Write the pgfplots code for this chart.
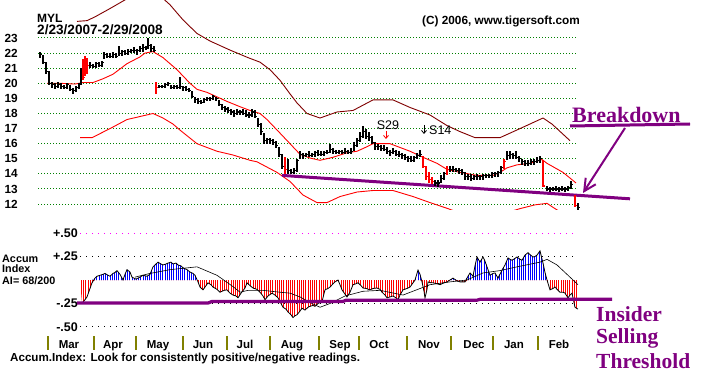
\documentclass[border=0pt]{standalone}
\usepackage{pgfplots}
\pgfplotsset{compat=1.18}
\usepackage{pgfplotstable}
\usepackage{fontspec}
\setmainfont{Liberation Sans}
\newfontfamily\tsserif{Liberation Serif}
\usetikzlibrary{arrows.meta,patterns.meta}
\definecolor{tspurple}{HTML}{800080}
\definecolor{tsdarkred}{HTML}{800000}
\definecolor{tsgreen}{HTML}{008000}
\definecolor{tsolive}{HTML}{808000}
\definecolor{tsred}{HTML}{FF0000}
\definecolor{tsblue}{HTML}{0000FF}
\definecolor{tspink}{HTML}{FF00FF}
\newcommand{\fs}[1]{\fontsize{#1}{#1}\selectfont}
\pgfdeclareplotmark{closetick}{\pgfpathmoveto{\pgfpointorigin}\pgfpathlineto{\pgfqpoint{2.2pt}{0pt}}\pgfusepathqstroke}

\pgfplotstableread{
x h l c
40 22.1 21.7 21.9
43 21.9 21.3 21.4
46 21.4 20.6 20.8
49 20.8 19.9 20.0
52 20.1 19.7 19.9
55 20.0 19.6 19.8
58 20.1 19.7 19.9
61 20.0 19.6 19.8
64 19.9 19.6 19.7
67 20.0 19.6 19.9
70 19.9 19.5 19.6
73 19.7 19.3 19.5
76 19.8 19.4 19.7
79 20.0 19.6 19.9
81 21.0 19.9 20.8
90 21.4 21.0 21.2
93 21.3 21.0 21.1
96 21.4 21.0 21.3
99 21.4 21.1 21.2
102 21.5 21.1 21.4
104 22.1 21.6 21.9
107 22.0 21.7 21.8
110 22.0 21.7 21.8
113 22.1 21.7 21.9
116 22.0 21.7 21.8
119 22.5 21.8 22.0
122 22.2 21.8 22.1
125 22.2 21.9 22.0
128 22.3 21.9 22.1
131 22.3 22.0 22.2
134 22.4 22.0 22.2
137 22.3 21.9 22.2
140 22.5 22.1 22.3
143 22.6 22.1 22.4
146 22.5 22.2 22.3
148 23.0 22.3 22.5
151 22.6 22.1 22.3
154 22.5 22.1 22.2
159 19.9 19.7 19.8
162 19.9 19.7 19.8
165 20.0 19.7 19.9
168 20.1 19.8 20.0
171 19.9 19.6 19.7
174 19.9 19.6 19.8
177 19.9 19.6 19.7
180 20.4 19.6 19.8
183 19.8 19.5 19.7
186 19.8 19.5 19.6
189 19.7 19.4 19.5
192 19.5 19.0 19.1
195 19.1 18.7 18.9
198 19.0 18.6 18.8
201 18.9 18.6 18.7
204 19.0 18.7 18.9
207 19.1 18.8 19.0
210 19.1 18.8 19.0
213 19.2 18.9 19.1
216 19.1 18.8 19.0
219 18.9 18.5 18.6
222 18.6 18.2 18.4
225 18.5 18.1 18.3
228 18.4 18.0 18.2
231 18.3 17.9 18.1
234 18.2 17.8 18.0
237 18.3 17.9 18.1
240 18.2 17.9 18.1
243 18.3 17.9 18.0
246 18.2 17.8 17.9
249 18.1 17.7 17.9
252 18.3 17.8 18.1
255 18.2 17.7 17.8
258 17.7 17.1 17.3
261 17.4 16.6 16.8
264 16.7 16.0 16.2
267 16.4 16.0 16.3
270 16.4 16.0 16.2
273 16.3 15.9 16.1
276 16.2 15.7 15.9
279 15.8 15.1 15.3
282 15.3 14.3 14.5
288 15.0 14.0 14.2
291 14.3 14.0 14.1
294 14.4 14.0 14.2
297 15.0 14.1 14.9
300 15.5 15.0 15.3
303 15.4 15.0 15.2
306 15.4 15.1 15.3
309 15.5 15.1 15.2
312 15.4 15.1 15.3
315 15.5 15.1 15.4
318 15.6 15.2 15.3
321 15.5 15.2 15.3
324 15.5 15.2 15.4
327 15.6 15.3 15.4
330 16.0 15.4 15.6
333 15.7 15.3 15.5
336 15.6 15.3 15.4
339 15.6 15.3 15.5
342 15.6 15.3 15.4
345 15.7 15.3 15.5
348 15.6 15.3 15.4
351 15.7 15.3 15.5
354 16.1 15.5 15.9
357 16.4 15.8 16.2
360 16.8 16.1 16.5
363 17.2 16.4 16.8
366 17.0 16.3 16.5
369 16.8 16.2 16.4
372 16.5 16.0 16.1
375 16.1 15.6 15.8
378 16.0 15.6 15.8
381 15.9 15.5 15.7
384 15.9 15.5 15.6
387 15.8 15.3 15.5
390 15.6 15.2 15.4
393 15.7 15.3 15.5
396 15.6 15.2 15.3
399 15.5 15.1 15.3
402 15.4 15.0 15.2
405 15.3 14.9 15.1
408 15.2 14.8 15.0
411 15.2 14.8 14.9
414 15.2 14.8 15.1
417 15.4 15.0 15.2
420 15.6 15.1 15.3
435 13.6 13.2 13.4
438 13.6 13.1 13.4
441 13.9 13.4 13.7
444 14.1 13.6 14.0
450 14.5 14.1 14.3
453 14.5 14.1 14.3
456 14.4 14.1 14.2
459 14.4 14.0 14.2
462 14.3 13.9 14.1
465 14.1 13.6 13.8
468 14.0 13.6 13.8
471 14.0 13.5 13.7
474 13.9 13.6 13.8
477 14.0 13.6 13.8
480 13.9 13.6 13.8
483 14.0 13.6 13.9
486 14.0 13.7 13.9
489 14.0 13.7 13.9
492 14.1 13.7 14.0
495 14.1 13.8 14.0
498 14.2 13.8 14.1
501 14.5 14.0 14.4
507 15.5 14.9 15.2
510 15.5 15.0 15.3
513 15.4 15.0 15.2
516 15.5 15.0 15.1
519 15.2 14.8 15.0
522 15.0 14.6 14.8
525 14.9 14.5 14.7
528 14.9 14.5 14.7
531 15.0 14.6 14.8
534 15.0 14.6 14.8
537 15.1 14.7 14.9
540 15.2 14.7 15.0
547 13.2 12.9 13.0
550 13.1 12.8 13.0
553 13.1 12.9 13.0
556 13.2 12.9 13.0
559 13.1 12.8 13.0
562 13.2 12.9 13.0
565 13.1 12.8 13.0
568 13.2 12.9 13.1
571 13.5 13.0 13.3
578 12.1 11.6 11.8
}\blackbars

\pgfplotstableread{
x h l c
83 21.6 20.2 20.4
85 21.8 20.5 21.0
87 21.7 20.6 21.2
156 20.1 19.3 19.7
285 15.1 14.0 14.3
423 15.2 14.4 14.5
426 14.5 13.6 13.8
429 14.1 13.4 13.6
432 13.8 13.3 13.5
447 14.5 13.9 14.3
504 15.0 14.3 14.8
543 14.9 13.1 13.2
575 12.6 11.8 11.9
}\redbars

\pgfplotstableread{
x v
80 0
82 -0.245
85 -0.21
87 -0.18
90 -0.09
92 -0.03
95 0.02
97 0.04
100 0.05
103 0.06
105 0.07
108 0.05
110 0.04
113 0.07
115 0.08
117 0.10
120 0.06
123 0.0
125 0.06
127 0.11
130 0.085
132 0.03
136 0.01
140 0.03
143 0.05
147 0.04
150 0.06
153 0.14
156 0.17
158 0.19
161 0.17
163 0.16
166 0.17
168 0.18
171 0.19
173 0.17
176 0.18
178 0.16
181 0.15
183 0.13
187 0.11
190 0.085
193 0.07
195 0.05
198 -0.02
200 -0.075
203 -0.105
206 -0.06
208 -0.03
211 -0.05
213 -0.075
217 -0.10
220 -0.13
224 -0.11
227 -0.105
230 -0.14
233 -0.16
236 -0.17
238 -0.19
241 -0.14
245 -0.085
247 -0.03
250 -0.06
253 -0.085
257 -0.10
260 -0.13
263 -0.17
265 -0.21
268 -0.17
272 -0.14
275 -0.16
278 -0.19
281 -0.25
283 -0.29
286 -0.31
288 -0.34
291 -0.37
293 -0.40
295 -0.38
297 -0.37
300 -0.33
302 -0.30
305 -0.32
308 -0.29
310 -0.28
313 -0.27
315 -0.28
318 -0.25
322 -0.23
325 -0.105
328 -0.09
330 -0.075
333 -0.04
335 -0.02
338 0.0
340 -0.05
342 -0.105
345 -0.15
347 -0.18
350 -0.13
353 -0.05
356 -0.04
358 -0.03
361 -0.06
363 -0.085
366 -0.09
370 -0.105
373 -0.09
377 -0.085
380 -0.10
382 -0.13
385 -0.16
387 -0.19
390 -0.18
393 -0.17
396 -0.19
398 -0.21
400 -0.16
403 -0.105
407 -0.09
410 -0.075
413 -0.03
415 0.0
417 0.07
418 0.105
420 0.06
422 -0.02
424 -0.12
425 -0.19
427 -0.10
428 -0.02
431 -0.03
433 -0.03
437 -0.04
440 -0.05
444 -0.03
447 -0.02
450 0.0
453 0.02
457 -0.01
460 -0.02
465 -0.02
468 0.04
470 0.075
473 0.04
475 0.15
477 0.245
480 0.19
483 0.245
485 0.20
487 0.14
490 0.05
493 0.07
495 0.075
498 0.02
502 0.105
505 0.16
508 0.235
510 0.22
512 0.21
515 0.23
517 0.245
520 0.22
522 0.21
525 0.265
528 0.29
530 0.27
533 0.245
535 0.25
537 0.265
540 0.31
543 0.18
545 0.08
547 0.0
550 -0.105
553 -0.09
555 -0.075
558 -0.11
560 -0.13
563 -0.13
565 -0.14
568 -0.19
570 -0.16
572 -0.14
575 -0.29
578 -0.31
578.5 0
}\accum

\begin{document}
\begin{tikzpicture}
\path[use as bounding box, fill=white] (0,0) rectangle (727pt,377pt);

% ---------------- price panel ----------------
\begin{axis}[
  at={(0pt,167pt)}, anchor=south west,
  width=727pt, height=210pt, scale only axis,
  xmin=0, xmax=727, ymin=11.6093, ymax=25.5166,
  clip mode=individual,
  axis line style={draw=none},
  xtick=\empty,
  ytick={12,...,23},
  major tick length=0pt,
  yticklabel style={font=\bfseries\fs{11.8}, anchor=east, inner sep=0pt, xshift=18pt},
  /pgf/number format/assume math mode=true,
]
\pgfplotsinvokeforeach{12,...,23}{
  \draw[tsgreen, line width=1pt, dash pattern=on 1pt off 2pt] (axis cs:38,#1) -- (axis cs:576,#1);
}
% upper band
\addplot[tsdarkred, line width=0.9pt] coordinates {
(77,24.1) (87,24.15) (95,24.4) (110,24.95) (127,25.6) (145,26.0) (160,25.8) (170,25.2) (183,24.2) (197,23.3) (210,22.8) (230,22.2) (248,21.7) (260,21.4) (270,20.9) (280,20.2) (290,19.3) (297,18.7) (307,18.0) (320,17.7) (337,18.1) (353,18.2) (373,18.9) (393,18.9) (410,18.4) (430,17.9) (447,17.2) (460,16.8) (475,16.4) (500,16.4) (520,17.0) (543,17.7) (552,17.3) (570,16.2)};
% lower band
\addplot[tsred, line width=0.9pt] coordinates {
(80,16.4) (92,16.4) (110,17.0) (127,17.6) (153,18.0) (163,17.7) (173,17.3) (180,16.9) (197,16.0) (217,15.5) (233,15.25) (250,14.9) (257,14.8) (277,14.1) (290,13.5) (303,12.6) (317,12.1) (327,12.1) (340,12.5) (357,12.8) (373,12.9) (393,12.9) (413,12.5) (430,12.1) (448,11.7) (460,11.4) (490,11.2) (510,11.5) (520,11.7) (535,11.95) (547,12.05) (555,11.7) (560,11.5)};
% middle band
\addplot[tsred, line width=0.9pt] coordinates {
(47,20.0) (60,20.0) (75,19.95) (83,20.05) (93,20.05) (103,20.3) (113,20.6) (127,21.3) (140,21.75) (145,22.0) (153,22.1) (163,21.7) (177,20.9) (190,20.0) (197,19.6) (207,19.4) (217,19.1) (227,18.8) (240,18.45) (250,18.2) (260,18.0) (267,17.6) (280,16.7) (290,16.0) (300,15.3) (310,15.05) (320,14.9) (333,15.1) (347,15.4) (357,15.5) (367,15.8) (373,16.0) (390,16.0) (410,15.5) (423,15.1) (437,14.7) (447,14.3) (460,14.1) (477,13.9) (493,13.9) (500,14.1) (507,14.4) (517,14.6) (530,14.7) (542,14.95) (547,14.7) (563,14.1) (576,13.4)};
% support line
\addplot[tspurple, line width=3pt] coordinates {(282,13.9) (630,12.35)};
% price bars
\addplot[black, only marks, mark=closetick, mark options={line width=1.1pt},
  error bars/.cd, y dir=both, y explicit, error mark=none, error bar style={line width=1.1pt}]
  table[x=x, y=c, y error plus expr=\thisrow{h}-\thisrow{c}, y error minus expr=\thisrow{c}-\thisrow{l}] {\blackbars};
\addplot[tsred, only marks, mark=closetick, mark options={line width=1.1pt},
  error bars/.cd, y dir=both, y explicit, error mark=none, error bar style={line width=1.1pt}]
  table[x=x, y=c, y error plus expr=\thisrow{h}-\thisrow{c}, y error minus expr=\thisrow{c}-\thisrow{l}] {\redbars};
\end{axis}

% ---------------- accumulation panel ----------------
\begin{axis}[
  at={(0pt,27pt)}, anchor=south west,
  width=727pt, height=135pt, scale only axis,
  xmin=0, xmax=727, ymin=-0.7447, ymax=0.6915,
  clip mode=individual,
  axis line style={draw=none},
  major tick length=0pt,
  ytick={-0.5,-0.25,0.25,0.5},
  yticklabels={-.50,-.25,+.25,+.50},
  yticklabel style={font=\bfseries\fs{12.5}, anchor=east, inner sep=0pt, xshift=78pt},
  xtick={69,113,158,203,245,292,340,379,429,474,514,559},
  xticklabels={Mar,Apr,May,Jun,Jul,Aug,Sep,Oct,Nov,Dec,Jan,Feb},
  xticklabel style={font=\bfseries\fs{11.5}, anchor=base, inner sep=0pt, yshift=1pt},
]
\draw[tspink, line width=1pt, dash pattern=on 1pt off 5pt] (axis cs:80,0.5) -- (axis cs:576,0.5);
\draw[black, line width=1pt, dash pattern=on 1pt off 5pt] (axis cs:80,0.25) -- (axis cs:576,0.25);
\draw[black, line width=1pt, dash pattern=on 1pt off 5pt] (axis cs:80,-0.25) -- (axis cs:576,-0.25);
\draw[black, line width=1pt, dash pattern=on 1pt off 5pt] (axis cs:80,-0.5) -- (axis cs:576,-0.5);
\addplot[draw=none, pattern={Lines[angle=90, distance=2.2pt, line width=1pt]}, pattern color=tsblue]
  table[x=x, y expr={max(\thisrow{v},0)}] {\accum};
\addplot[draw=none, pattern={Lines[angle=90, distance=2.2pt, line width=1pt]}, pattern color=tsred]
  table[x=x, y expr={min(\thisrow{v},0)}] {\accum};
\addplot[black, line width=0.8pt, restrict x to domain=81:578.2] table[x=x, y=v] {\accum};
% moving average of the index
\addplot[black, line width=0.6pt] coordinates {
(135,0.03) (150,0.07) (170,0.11) (197,0.14) (217,0.05) (233,-0.07) (240,-0.13) (248,-0.11) (263,-0.11) (280,-0.13) (290,-0.14) (300,-0.18) (310,-0.24) (320,-0.29) (330,-0.25) (345,-0.17) (363,-0.12) (380,-0.11) (403,-0.16) (430,-0.05) (450,-0.02) (467,0.0) (483,0.075) (500,0.10) (517,0.14) (540,0.19) (547,0.22) (557,0.16) (570,0.03) (578,-0.05)};
% insider selling threshold
\addplot[tspurple, line width=3.2pt] coordinates {
(77,-0.245) (208,-0.245) (212,-0.228) (343,-0.228) (346,-0.215) (477,-0.215) (480,-0.205) (612,-0.205)};
\pgfplotsinvokeforeach{48,94,136,183,227,270,319,359,407,451,493,538}{
  \draw[tsolive, line width=1.2pt] (axis cs:#1,-0.596) -- (axis cs:#1,-0.7447);
}
\end{axis}

% ---------------- texts ----------------
\node[anchor=base west, inner sep=0pt, font=\bfseries\fs{12}] at (37pt,354.3pt) {MYL};
\node[anchor=base west, inner sep=0pt, font=\bfseries\fs{13.6}] at (37pt,342pt) {2/23/2007-2/29/2008};
\node[anchor=base west, inner sep=0pt, font=\bfseries\fs{11.8}] at (422pt,352pt) {(C) 2006, www.tigersoft.com};
\node[anchor=base, inner sep=0pt, font=\fs{12.5}] at (388pt,247pt) {S29};
\draw[tsred, line width=0.8pt, -{Straight Barb[length=3pt,width=5pt]}] (386pt,246pt) -- (386pt,238pt);
\draw[black, line width=0.8pt, -{Straight Barb[length=3pt,width=5pt]}] (424pt,252pt) -- (424pt,243pt);
\node[anchor=base west, inner sep=0pt, font=\fs{12.5}] at (429pt,242pt) {S14};
\node[anchor=base west, inner sep=0pt, text=tspurple, font=\tsserif\bfseries\fs{22}] at (572pt,254.5pt) {Breakdown};
\draw[tspurple, line width=3pt] (570pt,251pt) -- (690pt,253pt);
\draw[tspurple, line width=2pt, -{Straight Barb[length=12pt,width=12pt]}] (625pt,249pt) -- (583pt,184pt);
\node[anchor=base west, inner sep=0pt, font=\bfseries\fs{10.8}] at (2pt,114.5pt) {Accum};
\node[anchor=base west, inner sep=0pt, font=\bfseries\fs{10.8}] at (2pt,104pt) {Index};
\node[anchor=base west, inner sep=0pt, font=\bfseries\fs{10.8}] at (2pt,92.5pt) {AI= 68/200};
\node[anchor=base west, inner sep=0pt, font=\bfseries\fs{11.6}] at (10pt,15.5pt) {Accum.Index: Look for consistently positive/negative readings.};
\node[anchor=base west, inner sep=0pt, text=tspurple, font=\tsserif\bfseries\fs{21.5}] at (596pt,55.5pt) {Insider};
\node[anchor=base west, inner sep=0pt, text=tspurple, font=\tsserif\bfseries\fs{21.5}] at (596pt,34pt) {Selling};
\node[anchor=base west, inner sep=0pt, text=tspurple, font=\tsserif\bfseries\fs{21.5}] at (596pt,9pt) {Threshold};
\end{tikzpicture}
\end{document}
